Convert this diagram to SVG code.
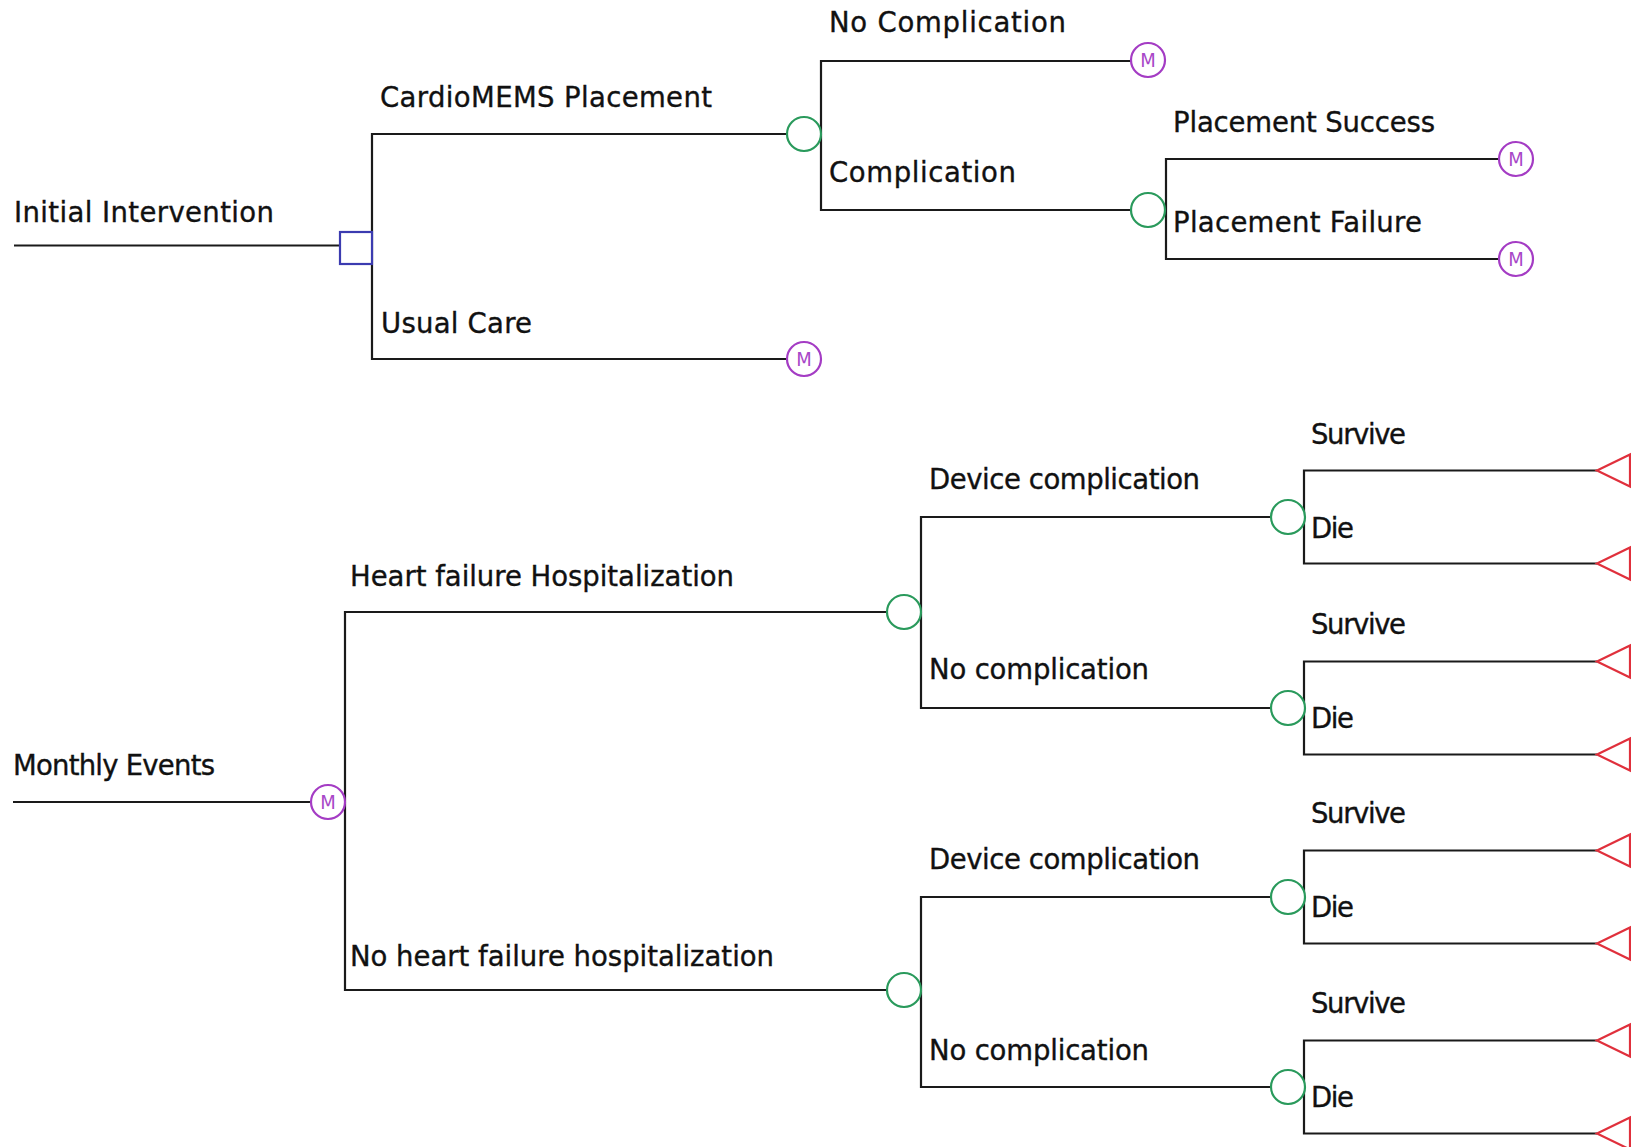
<svg xmlns="http://www.w3.org/2000/svg" width="1631" height="1147" viewBox="0 0 1631 1147">
<style>
.ln{fill:none;stroke:#1a1a1a;stroke-width:2.2}
.lb{font-family:"DejaVu Sans",Verdana,sans-serif;font-size:27.5px;fill:#111;stroke:#111;stroke-width:0.35}
.ch{fill:#fff;stroke:#2a9a5c;stroke-width:2.2}
.mk{fill:#fff;stroke:#a43cc4;stroke-width:2.2}
.mt{font-family:"DejaVu Sans Condensed","DejaVu Sans",sans-serif;font-size:20px;fill:#a848c8;text-anchor:middle;dominant-baseline:central}
.dc{fill:#fff;stroke:#3b3bb0;stroke-width:2.2}
.tm{fill:#fff;stroke:#e0303c;stroke-width:2.2}
</style>
<rect width="1631" height="1147" fill="#fff"/>
<g id="connectors">
<path class="ln" d="M14,245.5H340"/>
<path class="ln" d="M372,245.5V134H787"/>
<path class="ln" d="M372,245.5V359H787"/>
<path class="ln" d="M821,134V61H1131"/>
<path class="ln" d="M821,134V210H1131"/>
<path class="ln" d="M1166,210V159H1499"/>
<path class="ln" d="M1166,210V259H1499"/>
<path class="ln" d="M13,802H311"/>
<path class="ln" d="M345,802V612H887"/>
<path class="ln" d="M345,802V990H887"/>
<path class="ln" d="M921,612V517H1271"/>
<path class="ln" d="M921,612V708H1271"/>
<path class="ln" d="M921,990V897H1271"/>
<path class="ln" d="M921,990V1087H1271"/>
<path class="ln" d="M1304,517V470.5H1597"/>
<path class="ln" d="M1304,517V563.5H1597"/>
<path class="ln" d="M1304,708V661.5H1597"/>
<path class="ln" d="M1304,708V754.5H1597"/>
<path class="ln" d="M1304,897V850.5H1597"/>
<path class="ln" d="M1304,897V943.5H1597"/>
<path class="ln" d="M1304,1087V1040.5H1597"/>
<path class="ln" d="M1304,1087V1133.5H1597"/>
</g>
<g id="labels">
<text class="lb" x="14" y="222" textLength="260">Initial Intervention</text>
<text class="lb" x="380" y="107" textLength="332">CardioMEMS Placement</text>
<text class="lb" x="381" y="333" textLength="151">Usual Care</text>
<text class="lb" x="829" y="32" textLength="237">No Complication</text>
<text class="lb" x="829" y="182" textLength="187">Complication</text>
<text class="lb" x="1173" y="132" textLength="262">Placement Success</text>
<text class="lb" x="1173" y="232" textLength="249">Placement Failure</text>
<text class="lb" x="13" y="775" textLength="202">Monthly Events</text>
<text class="lb" x="350" y="586" textLength="384">Heart failure Hospitalization</text>
<text class="lb" x="350" y="966" textLength="424">No heart failure hospitalization</text>
<text class="lb" x="929" y="489" textLength="271">Device complication</text>
<text class="lb" x="929" y="679" textLength="220">No complication</text>
<text class="lb" x="929" y="869" textLength="271">Device complication</text>
<text class="lb" x="929" y="1060" textLength="220">No complication</text>
<text class="lb" x="1311" y="444" textLength="95">Survive</text>
<text class="lb" x="1311" y="538" textLength="43">Die</text>
<text class="lb" x="1311" y="634" textLength="95">Survive</text>
<text class="lb" x="1311" y="728" textLength="43">Die</text>
<text class="lb" x="1311" y="823" textLength="95">Survive</text>
<text class="lb" x="1311" y="917" textLength="43">Die</text>
<text class="lb" x="1311" y="1013" textLength="95">Survive</text>
<text class="lb" x="1311" y="1107" textLength="43">Die</text>
</g>
<g id="decision-initial"><rect class="dc" x="340" y="232" width="32" height="32"/></g>
<g id="chance-cardiomems"><circle class="ch" cx="804" cy="134" r="17"/></g>
<g id="markov-usual-care"><circle class="mk" cx="804" cy="359" r="17"/><text class="mt" x="804" y="359">M</text></g>
<g id="markov-no-complication"><circle class="mk" cx="1148" cy="60" r="17"/><text class="mt" x="1148" y="60">M</text></g>
<g id="chance-complication"><circle class="ch" cx="1148" cy="210" r="17"/></g>
<g id="markov-placement-success"><circle class="mk" cx="1516" cy="159" r="17"/><text class="mt" x="1516" y="159">M</text></g>
<g id="markov-placement-failure"><circle class="mk" cx="1516" cy="259" r="17"/><text class="mt" x="1516" y="259">M</text></g>
<g id="markov-monthly"><circle class="mk" cx="328" cy="802" r="17"/><text class="mt" x="328" y="802">M</text></g>
<g id="chance-hf"><circle class="ch" cx="904" cy="612" r="17"/></g>
<g id="chance-no-hf"><circle class="ch" cx="904" cy="990" r="17"/></g>
<g id="chance-hf-device"><circle class="ch" cx="1288" cy="517" r="17"/></g>
<g id="chance-hf-nocomp"><circle class="ch" cx="1288" cy="708" r="17"/></g>
<g id="chance-nohf-device"><circle class="ch" cx="1288" cy="897" r="17"/></g>
<g id="chance-nohf-nocomp"><circle class="ch" cx="1288" cy="1087" r="17"/></g>
<g id="term-1"><polygon class="tm" points="1597,470.5 1630,454.5 1630,486.5"/></g>
<g id="term-2"><polygon class="tm" points="1597,563.5 1630,547.5 1630,579.5"/></g>
<g id="term-3"><polygon class="tm" points="1597,661.5 1630,645.5 1630,677.5"/></g>
<g id="term-4"><polygon class="tm" points="1597,754.5 1630,738.5 1630,770.5"/></g>
<g id="term-5"><polygon class="tm" points="1597,850.5 1630,834.5 1630,866.5"/></g>
<g id="term-6"><polygon class="tm" points="1597,943.5 1630,927.5 1630,959.5"/></g>
<g id="term-7"><polygon class="tm" points="1597,1040.5 1630,1024.5 1630,1056.5"/></g>
<g id="term-8"><polygon class="tm" points="1597,1133.5 1630,1117.5 1630,1149.5"/></g>
</svg>
